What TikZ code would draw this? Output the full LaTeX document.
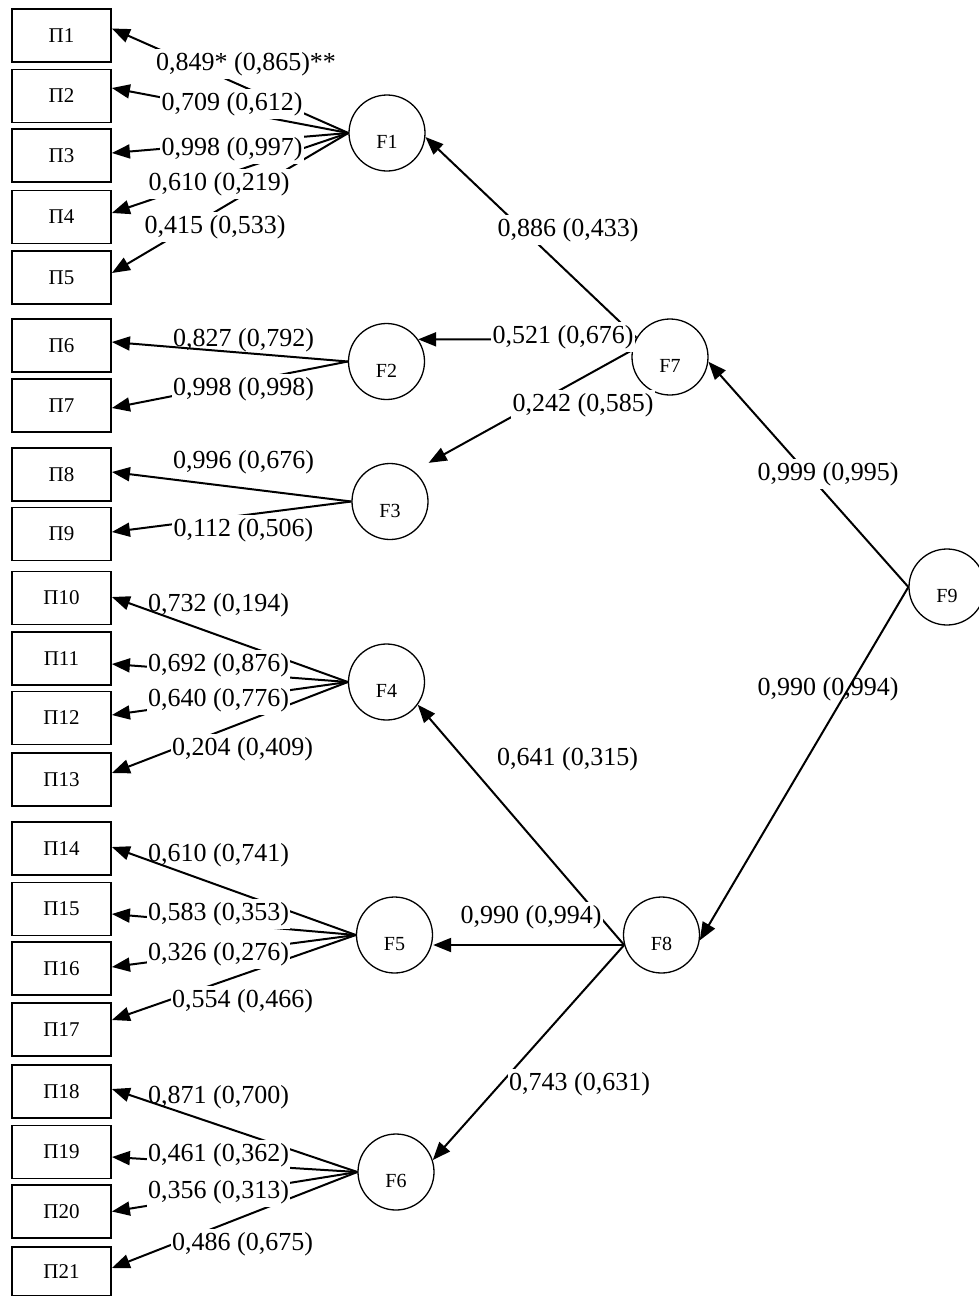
\documentclass[tikz,border=0pt]{standalone}
\usepackage{fontspec}
\setmainfont{Liberation Serif}
\usetikzlibrary{arrows.meta,calc}
\begin{document}
\begin{tikzpicture}[x=1pt,y=-1pt,
  obs/.style={draw, line width=1.8pt, minimum width=99pt, minimum height=53pt, inner sep=0pt, font=\fontsize{21}{24}\selectfont},
  fac/.style={draw, circle, line width=1.3pt, minimum size=76pt, inner sep=0pt},
  ftxt/.style={font=\fontsize{20}{24}\selectfont, inner sep=0pt},
  lab/.style={font=\fontsize{26}{30}\selectfont, text height=18pt, text depth=5.7pt, inner xsep=1.5pt, inner ysep=3pt},
  labw/.style={lab, fill=white},
  arr/.style={line width=2pt, -{Triangle[length=18pt,width=14pt]}}]
\useasboundingbox (0,0) rectangle (979,1296);
% observed variables
\node[obs] (P1) at (61.5,35.5) {Π1};
\node[obs] (P2) at (61.5,96) {Π2};
\node[obs] (P3) at (61.5,155.5) {Π3};
\node[obs] (P4) at (61.5,217) {Π4};
\node[obs] (P5) at (61.5,277.5) {Π5};
\node[obs] (P6) at (61.5,345.5) {Π6};
\node[obs] (P7) at (61.5,405.5) {Π7};
\node[obs] (P8) at (61.5,474.5) {Π8};
\node[obs] (P9) at (61.5,534) {Π9};
\node[obs] (P10) at (61.5,598) {Π10};
\node[obs] (P11) at (61.5,658.5) {Π11};
\node[obs] (P12) at (61.5,718) {Π12};
\node[obs] (P13) at (61.5,779.5) {Π13};
\node[obs] (P14) at (61.5,848.5) {Π14};
\node[obs] (P15) at (61.5,909) {Π15};
\node[obs] (P16) at (61.5,968.5) {Π16};
\node[obs] (P17) at (61.5,1029.5) {Π17};
\node[obs] (P18) at (61.5,1091.5) {Π18};
\node[obs] (P19) at (61.5,1152) {Π19};
\node[obs] (P20) at (61.5,1211.5) {Π20};
\node[obs, minimum height=49pt] (P21) at (61.5,1271.5) {Π21};
% factors
\node[fac] (F1) at (387,133) {};
\node[fac] (F2) at (386.5,361.5) {};
\node[fac] (F3) at (390,501.5) {};
\node[fac] (F4) at (386.5,682) {};
\node[fac] (F5) at (394.5,935) {};
\node[fac] (F6) at (396,1172) {};
\node[fac] (F7) at (670,357) {};
\node[fac] (F8) at (661.5,935) {};
\node[fac] (F9) at (947,587) {};
\foreach \f in {1,...,9} {\node[ftxt] (tF\f) at ($(F\f)+(0,9)$) {F\f};}
% labels crossed by their own line (no fill)
\node[lab] (L6) at (243.5,340) {0,827 (0,792)};
\node[lab] (L8) at (243.5,462) {0,996 (0,676)};
\node[lab] (L10) at (218.5,605) {0,732 (0,194)};
\node[lab] (L14) at (218.5,855) {0,610 (0,741)};
\node[lab] (L18) at (218.5,1097) {0,871 (0,700)};
\node[lab] (R98) at (828,689) {0,990 (0,994)};
\node[lab] (R84) at (567.5,759) {0,641 (0,315)};
% connectors F1
\draw[arr] (F1.west) -- ([yshift=7pt]P1.east);
\draw[arr] (F1.west) -- ([yshift=8pt]P2.east);
\draw[arr] (F1.west) -- ([yshift=2.5pt]P3.east);
\draw[arr] (F1.west) -- ([yshift=4pt]P4.east);
\draw[arr] (F1.west) -- ([yshift=4.5pt]P5.east);
% F2, F3
\draw[arr] (F2.west) -- ([yshift=3.5pt]P6.east);
\draw[arr] (F2.west) -- ([yshift=-2.5pt]P7.east);
\draw[arr] (F3.west) -- ([yshift=2.5pt]P8.east);
\draw[arr] (F3.west) -- ([yshift=2pt]P9.east);
% F4
\draw[arr] (F4.west) -- ([yshift=1pt]P10.east);
\draw[arr] (F4.west) -- ([yshift=-5.5pt]P11.east);
\draw[arr] (F4.west) -- ([yshift=3pt]P12.east);
\draw[arr] (F4.west) -- ([yshift=6.5pt]P13.east);
% F5
\draw[arr] (F5.west) -- ([yshift=1.5pt]P14.east);
\draw[arr] (F5.west) -- ([yshift=-5pt]P15.east);
\draw[arr] (F5.west) -- ([yshift=1.5pt]P16.east);
\draw[arr] (F5.west) -- ([yshift=9.5pt]P17.east);
% F6
\draw[arr] (F6.west) -- ([yshift=2.5pt]P18.east);
\draw[arr] (F6.west) -- ([yshift=-5pt]P19.east);
\draw[arr] (F6.west) -- (P20.east);
\draw[arr] (F6.west) -- ([yshift=3.5pt]P21.east);
% second order
\draw[arr] (F7.150) -- (F1.-6);
\draw[arr] (F7.153) -- (F2.35);
\draw[arr] (F7.170) -- (F3.north -| F3.east);
\draw[arr] (F8.195) -- (F4.-36);
\draw[arr] (F8.195) -- (F8.195 -| F5.east);
\draw[arr] (F8.195) -- (F6.18);
\draw[arr] (F9.west) -- (F7.-7);
\draw[arr] (F9.west) -- (F8.-8);
% labels with white background
\node[labw] (L1) at (246,64) {0,849* (0,865)**};
\node[labw] (L2) at (232,104) {0,709 (0,612)};
\node[labw] (L3) at (232,149) {0,998 (0,997)};
\node[labw] (L4) at (219,184) {0,610 (0,219)};
\node[labw] (L5) at (215,227) {0,415 (0,533)};
\node[labw] (L7) at (243.5,389) {0,998 (0,998)};
\node[labw] (L9) at (243.5,530) {0,112 (0,506)};
\node[labw] (L11) at (218.5,665) {0,692 (0,876)};
\node[labw] (L12) at (218.5,700) {0,640 (0,776)};
\node[labw] (L13) at (242.5,749) {0,204 (0,409)};
\node[labw] (L15) at (218.5,914) {0,583 (0,353)};
\node[labw] (L16) at (218.5,954) {0,326 (0,276)};
\node[labw] (L17) at (242.5,1001) {0,554 (0,466)};
\node[labw] (L19) at (218.5,1155) {0,461 (0,362)};
\node[labw] (L20) at (218.5,1192) {0,356 (0,313)};
\node[labw] (L21) at (242.5,1244) {0,486 (0,675)};
\node[labw] (R71) at (568,230) {0,886 (0,433)};
\node[labw] (R72) at (563,337) {0,521 (0,676)};
\node[labw] (R73) at (583,405) {0,242 (0,585)};
\node[labw] (R97) at (828,474) {0,999 (0,995)};
\node[labw] (R85) at (531,917) {0,990 (0,994)};
\node[labw] (R86) at (579.5,1084) {0,743 (0,631)};
\end{tikzpicture}
\end{document}
